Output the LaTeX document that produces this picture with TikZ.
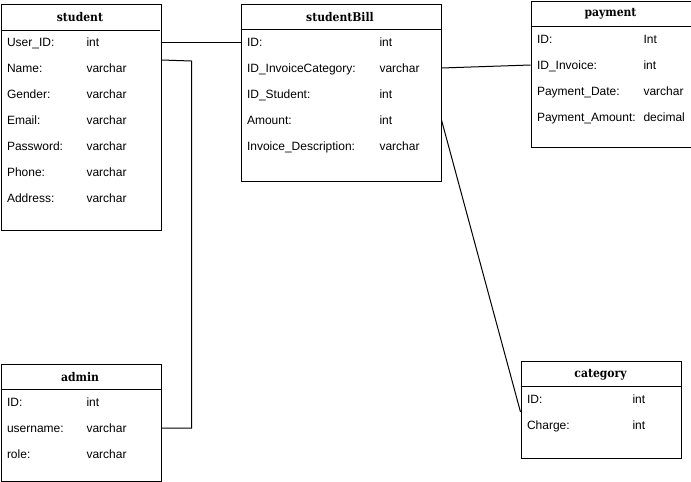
\documentclass[tikz,border=0pt]{standalone}
\usepackage{fontspec}
\setmainfont{Liberation Sans}
\newfontfamily\titlefont{DejaVu Serif Condensed}
\begin{document}
\begin{tikzpicture}[x=1pt, y=-1pt, line width=1pt, font=\fontsize{12}{14}\selectfont,
        box/.style={draw, anchor=north west, inner sep=0pt},
        title/.style={font=\titlefont\fontsize{12}{14}\selectfont\bfseries, inner sep=0pt},
        row/.style={anchor=west, align=left, inner xsep=6pt, inner ysep=0pt, text height=9pt, text depth=0pt},
        type/.style={anchor=west, inner sep=0pt, text height=9pt, text depth=0pt}]
        \useasboundingbox (0,0) rectangle (691,482);
        % student
        \node[box, minimum width=160pt, minimum height=226pt] (student) at (0.5,4) {};
        \node[title] (student-t) at (80,17) {student};
        \draw (0.5,30) -- (160,30);
        \node[row, text width=148pt] (student-uid) at (0.5,42) {User\_ID:};
        \node[row, text width=148pt] (student-name) at (0.5,68) {Name:};
        \node[row] (student-gen) at (0.5,94) {Gender:};
        \node[row] (student-mail) at (0.5,120) {Email:};
        \node[row] (student-pw) at (0.5,146) {Password:};
        \node[row] (student-ph) at (0.5,172) {Phone:};
        \node[row] (student-adr) at (0.5,198) {Address:};
        \node[type] (student-uid-ty) at (86,42) {int};
        \node[type] (student-name-ty) at (86,68) {varchar};
        \node[type] (student-gen-ty) at (86,94) {varchar};
        \node[type] (student-mail-ty) at (86,120) {varchar};
        \node[type] (student-pw-ty) at (86,146) {varchar};
        \node[type] (student-ph-ty) at (86,172) {varchar};
        \node[type] (student-adr-ty) at (86,198) {varchar};
        % studentBill
        \node[box, minimum width=200pt, minimum height=177pt] (bill) at (240.5,3.5) {};
        \node[title] (bill-t) at (340,17) {studentBill};
        \draw (240.5,29.5) -- (440.5,29.5);
        \node[row, text width=188pt] (bill-id) at (240.5,42) {ID:};
        \node[row, text width=188pt] (bill-cat) at (240.5,68) {ID\_InvoiceCategory:};
        \node[row] (bill-stu) at (240.5,94) {ID\_Student:};
        \node[row, text width=188pt] (bill-amt) at (240.5,120) {Amount:};
        \node[row] (bill-desc) at (240.5,146) {Invoice\_Description:};
        \node[type] (bill-id-ty) at (379,42) {int};
        \node[type] (bill-cat-ty) at (379,68) {varchar};
        \node[type] (bill-stu-ty) at (379,94) {int};
        \node[type] (bill-amt-ty) at (379,120) {int};
        \node[type] (bill-desc-ty) at (379,146) {varchar};
        % payment
        \node[box, minimum width=160pt, minimum height=146pt] (pay) at (530.5,1) {};
        \node[title] (pay-t) at (610.5,14) {payment};
        \draw (530.5,26.5) -- (690.5,26.5);
        \node[row] (pay-id) at (530.5,39) {ID:};
        \node[row] (pay-inv) at (530.5,65) {ID\_Invoice:};
        \node[row] (pay-date) at (530.5,91) {Payment\_Date:};
        \node[row] (pay-amt) at (530.5,117) {Payment\_Amount:};
        \node[type] (pay-id-ty) at (643,39) {Int};
        \node[type] (pay-inv-ty) at (643,65) {int};
        \node[type] (pay-date-ty) at (643,91) {varchar};
        \node[type] (pay-amt-ty) at (643,117) {decimal};
        % category
        \node[box, minimum width=160pt, minimum height=97pt] (cat) at (520.5,361) {};
        \node[title] (cat-t) at (600.5,375) {category};
        \draw (520.5,386.5) -- (680.5,386.5);
        \node[row] (cat-id) at (520.5,399) {ID:};
        \node[row] (cat-chg) at (520.5,425) {Charge:};
        \node[type] (cat-id-ty) at (632,399) {int};
        \node[type] (cat-chg-ty) at (632,425) {int};
        % admin
        \node[box, minimum width=160pt, minimum height=117.5pt] (admin) at (0.5,363.5) {};
        \node[title] (admin-t) at (80,377) {admin};
        \draw (0.5,389.5) -- (160.5,389.5);
        \node[row] (admin-id) at (0.5,402) {ID:};
        \node[row, text width=148pt] (admin-user) at (0.5,428) {username:};
        \node[row] (admin-role) at (0.5,454) {role:};
        \node[type] (admin-id-ty) at (86,402) {int};
        \node[type] (admin-user-ty) at (86,428) {varchar};
        \node[type] (admin-role-ty) at (86,454) {varchar};
        % connectors
        \draw (student-uid.east) -- (bill-id.west);
        \draw ([yshift=8pt]student-name.east) -- ++(30,1) |- (admin-user.east);
        \draw (bill-cat.east) -- (pay-inv.west);
        \draw (bill-amt.east) -- ([yshift=-13pt]cat-id.west);
    \end{tikzpicture}
\end{document}
